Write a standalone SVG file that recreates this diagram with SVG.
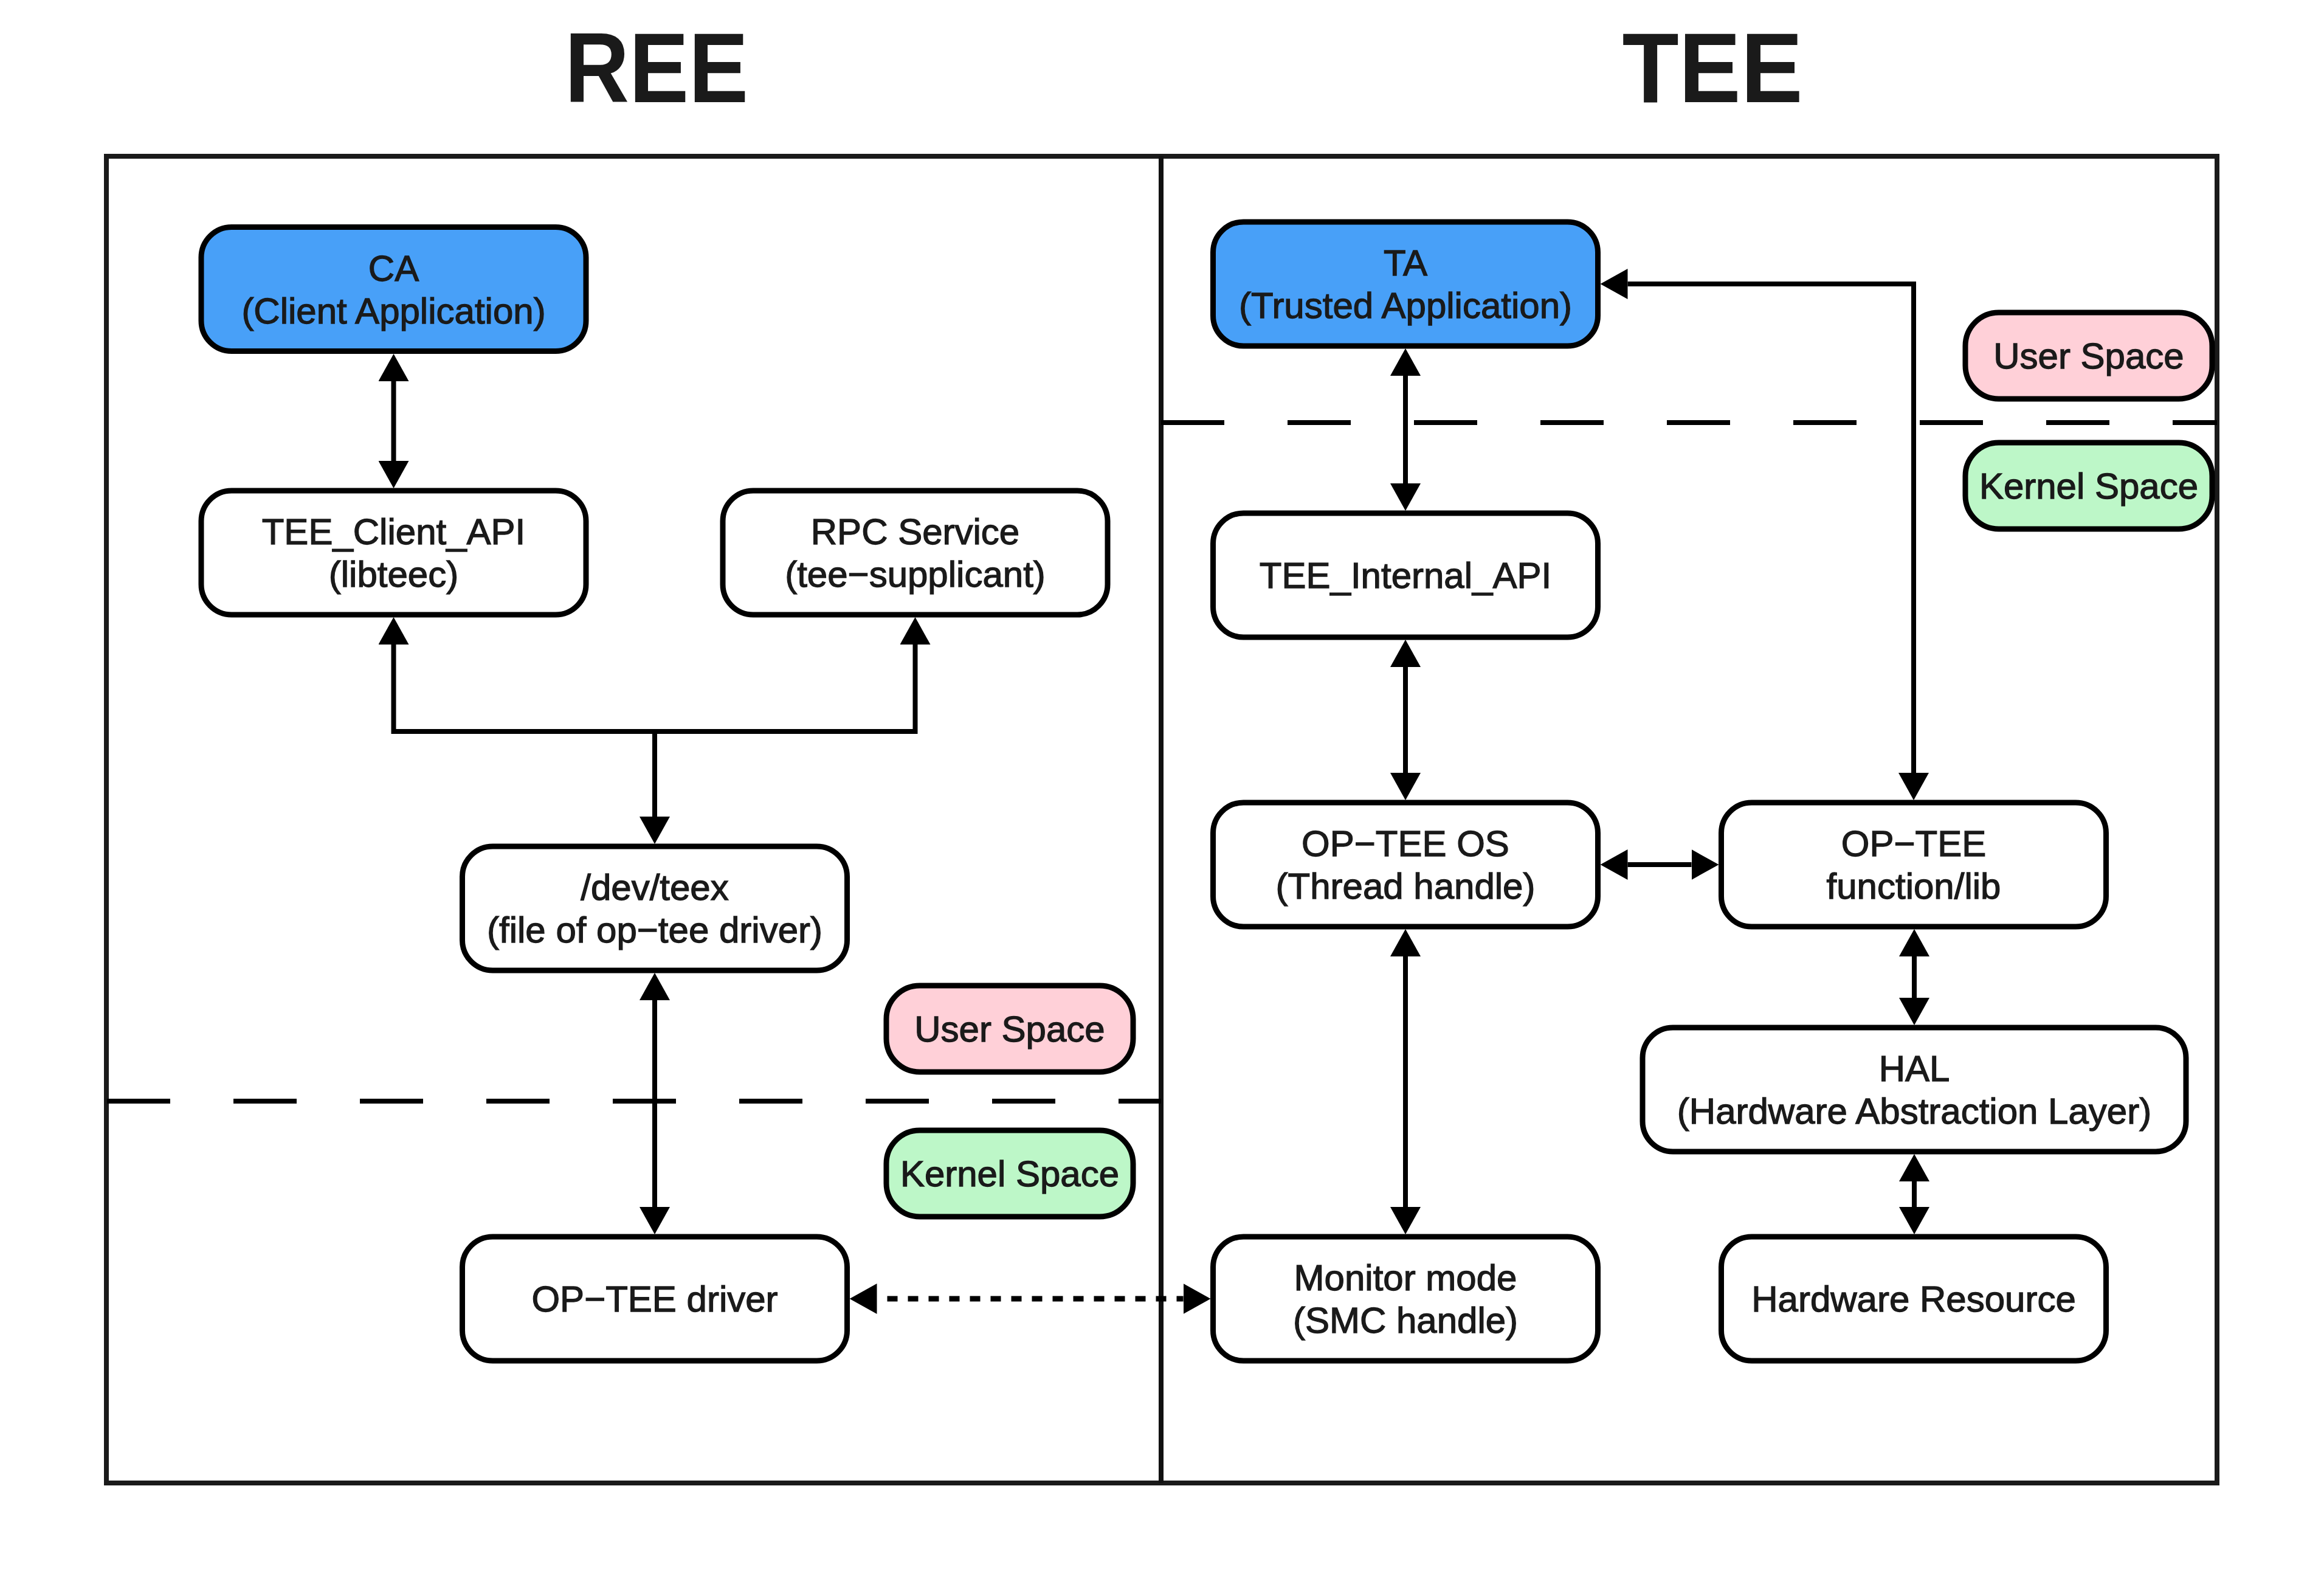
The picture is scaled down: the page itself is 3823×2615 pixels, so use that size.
<svg xmlns="http://www.w3.org/2000/svg" width="3823" height="2615" viewBox="0 0 3823 2615">
<style>
  .frame { fill: none; stroke: #1a1a1a; stroke-width: 8; }
  .div { stroke: #111; stroke-width: 8; }
  .dash { stroke: #000; stroke-width: 8; stroke-dasharray: 104 104; fill: none; }
  .node { fill: #ffffff; stroke: #000; stroke-width: 9; }
  .blue { fill: #48a0f8; }
  .pink { fill: #ffd0d8; }
  .green { fill: #bdf7c8; }
  .t { font-family: "Liberation Sans", Arial, Helvetica, sans-serif; font-size: 60px; fill: #1a1a1a; stroke: #1a1a1a; stroke-width: 1.3; text-anchor: middle; }
  .title { font-family: "Liberation Sans", Arial, Helvetica, sans-serif; font-size: 163px; font-weight: bold; fill: #1a1a1a; text-anchor: middle; }
  .edge { fill: none; stroke: #000; stroke-width: 8; marker-start: url(#ah); marker-end: url(#ah); }
  .dotted { stroke-dasharray: 17 17; stroke-dashoffset: 17; stroke-width: 9; }
</style>
<defs>
  <marker id="ah" viewBox="0 0 45 50" refX="0" refY="25" markerWidth="45" markerHeight="50" markerUnits="userSpaceOnUse" orient="auto-start-reverse">
    <path d="M0,0 L45,25 L0,50 Z" fill="#000"/>
  </marker>
</defs>
<rect width="3823" height="2615" fill="#ffffff"/>

<g id="titles">
  <text class="title" x="1080" y="168" textLength="302" lengthAdjust="spacingAndGlyphs">REE</text>
  <text class="title" x="2817" y="168" textLength="297" lengthAdjust="spacingAndGlyphs">TEE</text>
</g>

<g id="frame">
  <rect class="frame" x="175" y="257" width="3472" height="2182"/>
  <line class="div" x1="1910" y1="257" x2="1910" y2="2439"/>
  <line class="dash" x1="176" y1="1811" x2="1910" y2="1811"/>
  <line class="dash" x1="1910" y1="695" x2="3647" y2="695"/>
</g>

<g id="nodes">
  <g id="ca">
    <rect class="node blue" x="331" y="373.5" width="633" height="204" rx="50"/>
    <text class="t" x="647.5" y="461.5">CA</text>
    <text class="t" x="647.5" y="531.5">(Client Application)</text>
  </g>
  <g id="tee_client_api">
    <rect class="node" x="331" y="807" width="633" height="204" rx="50"/>
    <text class="t" x="647.5" y="895">TEE_Client_API</text>
    <text class="t" x="647.5" y="965">(libteec)</text>
  </g>
  <g id="rpc_service">
    <rect class="node" x="1189" y="807" width="633" height="204" rx="50"/>
    <text class="t" x="1505.5" y="895">RPC Service</text>
    <text class="t" x="1505.5" y="965">(tee−supplicant)</text>
  </g>
  <g id="dev_teex">
    <rect class="node" x="760.5" y="1392" width="633" height="204" rx="50"/>
    <text class="t" x="1077" y="1480">/dev/teex</text>
    <text class="t" x="1077" y="1550">(file of op−tee driver)</text>
  </g>
  <g id="optee_driver">
    <rect class="node" x="760.5" y="2034" width="633" height="204" rx="50"/>
    <text class="t" x="1077" y="2157">OP−TEE driver</text>
  </g>
  <g id="ree_user_space">
    <rect class="node pink" x="1458" y="1621" width="406" height="142" rx="55"/>
    <text class="t" x="1661" y="1713">User Space</text>
  </g>
  <g id="ree_kernel_space">
    <rect class="node green" x="1458" y="1859" width="406" height="142" rx="55"/>
    <text class="t" x="1661" y="1951">Kernel Space</text>
  </g>
  <g id="ta">
    <rect class="node blue" x="1995.5" y="365" width="633" height="204" rx="50"/>
    <text class="t" x="2312" y="453">TA</text>
    <text class="t" x="2312" y="523">(Trusted Application)</text>
  </g>
  <g id="tee_user_space">
    <rect class="node pink" x="3233" y="514" width="406" height="142" rx="55"/>
    <text class="t" x="3436" y="606">User Space</text>
  </g>
  <g id="tee_kernel_space">
    <rect class="node green" x="3233" y="728" width="406" height="142" rx="55"/>
    <text class="t" x="3436" y="820">Kernel Space</text>
  </g>
  <g id="tee_internal_api">
    <rect class="node" x="1995.5" y="844" width="633" height="204" rx="50"/>
    <text class="t" x="2312" y="967">TEE_Internal_API</text>
  </g>
  <g id="optee_os">
    <rect class="node" x="1995.5" y="1320" width="633" height="204" rx="50"/>
    <text class="t" x="2312" y="1408">OP−TEE OS</text>
    <text class="t" x="2312" y="1478">(Thread handle)</text>
  </g>
  <g id="optee_lib">
    <rect class="node" x="2831.5" y="1320" width="633" height="204" rx="50"/>
    <text class="t" x="3148" y="1408">OP−TEE</text>
    <text class="t" x="3148" y="1478">function/lib</text>
  </g>
  <g id="hal">
    <rect class="node" x="2702" y="1690" width="894" height="204" rx="50"/>
    <text class="t" x="3149" y="1778">HAL</text>
    <text class="t" x="3149" y="1848">(Hardware Abstraction Layer)</text>
  </g>
  <g id="monitor_mode">
    <rect class="node" x="1995.5" y="2034" width="633" height="204" rx="50"/>
    <text class="t" x="2312" y="2122">Monitor mode</text>
    <text class="t" x="2312" y="2192">(SMC handle)</text>
  </g>
  <g id="hardware_resource">
    <rect class="node" x="2831.5" y="2034" width="633" height="204" rx="50"/>
    <text class="t" x="3148" y="2157">Hardware Resource</text>
  </g>
</g>

<g id="connectors">
  <path class="edge" d="M647.5,627 V758"/>
  <path class="edge" d="M647.5,1060 V1203 H1505.5 V1060"/>
  <path class="edge" style="marker-start:none" d="M1077,1203 V1343"/>
  <path class="edge" d="M1077,1645 V1985"/>
  <path class="edge dotted" d="M1442.5,2136 H1946.5"/>
  <path class="edge" d="M2312,618 V795"/>
  <path class="edge" d="M2677.5,467 H3148 V1271"/>
  <path class="edge" d="M2312,1097 V1271"/>
  <path class="edge" d="M2677.5,1422 H2782.5"/>
  <path class="edge" d="M2312,1573 V1985"/>
  <path class="edge" d="M3149,1573 V1641"/>
  <path class="edge" d="M3149,1943 V1985"/>
</g>
</svg>
